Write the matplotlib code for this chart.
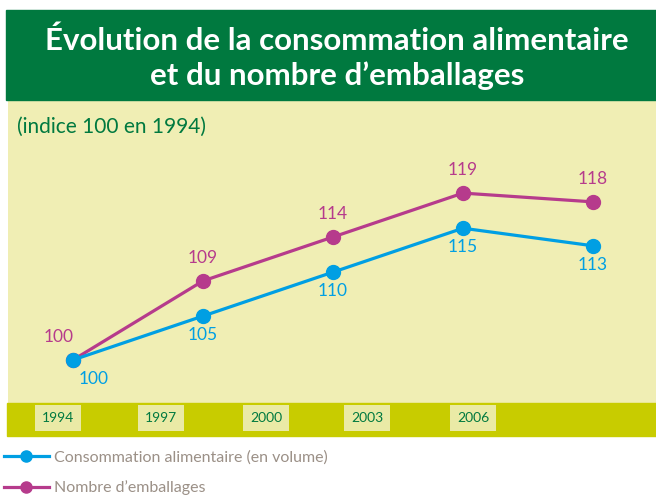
import matplotlib
matplotlib.use('Agg')
import matplotlib.pyplot as plt
from matplotlib.patches import Rectangle

years = ['1994', '1997', '2000', '2003', '2006']
conso = [100, 105, 110, 115, 113]
emballages = [100, 109, 114, 119, 118]

green = '#00793f'
beige = '#f0eeb4'
olive = '#c8cc00'
blue = '#009fe3'
pink = '#b63b8c'
grey = '#9b9087'

plt.rcParams['font.family'] = ['Lato', 'DejaVu Sans']

fig = plt.figure(figsize=(6.56, 4.97), dpi=100)
W, H = 656.0, 497.0

def fx(px):
    return px / W

def fy(py):
    return 1 - py / H

# title banner
fig.patches.append(Rectangle((fx(6), fy(100)), 1 - fx(6), fy(10) - fy(100),
                             transform=fig.transFigure, color=green, zorder=0))
fig.text(fx(337), fy(41), 'Évolution de la consommation alimentaire', color='white',
         fontsize=22.5, fontweight='bold', ha='center', va='center')
fig.text(fx(337), fy(76), 'et du nombre d\u2019emballages', color='white',
         fontsize=22.5, fontweight='bold', ha='center', va='center')

# plot area
ax = fig.add_axes([fx(8), fy(403), 1 - fx(8), fy(100) - fy(403)])
ax.set_facecolor(beige)
for s in ax.spines.values():
    s.set_visible(False)
ax.set_xticks([])
ax.set_yticks([])
xs = list(range(len(years)))
ax.set_xlim(-0.5, 4.485)
ax.set_ylim(95.1, 129.6)

l1, = ax.plot(xs, conso, color=blue, lw=2.3, marker='o', ms=10,
              label='Consommation alimentaire (en volume)', zorder=3)
l2, = ax.plot(xs, emballages, color=pink, lw=2.3, marker='o', ms=10,
              label='Nombre d\u2019emballages', zorder=2)

for i, v in enumerate(emballages):
    dx = -10 if i == 0 else 0
    ax.annotate(str(v), (xs[i], v), xytext=(dx, 11), textcoords='offset points',
                ha='center', va='bottom', color=pink, fontsize=12.5)
for i, v in enumerate(conso):
    dx = 15 if i == 0 else 0
    ax.annotate(str(v), (xs[i], v), xytext=(dx, -8), textcoords='offset points',
                ha='center', va='top', color=blue, fontsize=12.5)

fig.text(fx(17), fy(127), '(indice 100 en 1994)', color=green, fontsize=15,
         ha='left', va='center')

# x band with year boxes
fig.patches.append(Rectangle((fx(7), fy(436)), 1 - fx(7), fy(403) - fy(436),
                             transform=fig.transFigure, color=olive, zorder=0))
box_x = [58, 161, 266, 367, 473]
for bx, yr in zip(box_x, years):
    fig.text(fx(bx), fy(418), yr, color=green, fontsize=10, ha='center', va='center',
             bbox=dict(boxstyle='square,pad=0.5', fc='#eaeaa6', ec='none'))

fig.legend(handles=[l1, l2], loc='upper left', bbox_to_anchor=(fx(4), fy(450)),
           frameon=False, fontsize=11.5, labelcolor=grey, handlelength=2.8,
           handletextpad=0.3, labelspacing=1.0, borderaxespad=0, borderpad=0,
           markerscale=0.8)

fig.savefig('out.png', dpi=100, facecolor='white')
